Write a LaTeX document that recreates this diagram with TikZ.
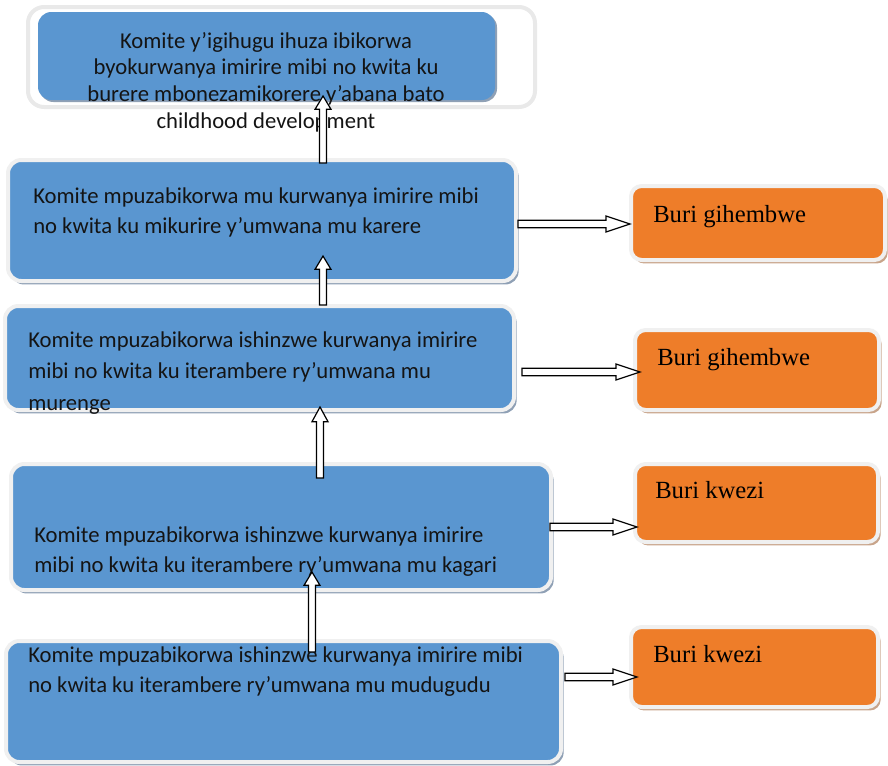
\documentclass[tikz,border=0pt]{standalone}
\usepackage{fontspec}
\setmainfont{Carlito}
\newfontfamily\orfont{Liberation Serif}
\usetikzlibrary{calc,shadows}
\definecolor{boxblue}{HTML}{5A96D0}
\definecolor{boxorange}{HTML}{EE7D29}
\definecolor{rimgray}{HTML}{F0F0F0}
\definecolor{framegray}{HTML}{E9E9E9}
\definecolor{blueshadow}{HTML}{8FA0B5}
\definecolor{orshadow}{HTML}{C8A48A}
% #1 from, #2 to, #3 shaft half width, #4 head half width, #5 head length
\newcommand\hollowarrow[5]{%
  \path let \p1=(#1), \p2=(#2), \n1={atan2(\y2-\y1,\x2-\x1)}, \n2={veclen(\x2-\x1,\y2-\y1)} in
    [shift={(\p1)}, rotate=\n1, draw=black, line width=0.9pt, fill=white, line join=miter]
    (0pt,-#3) -- ({\n2*1pt-#5},-#3) -- ({\n2*1pt-#5},-#4) -- ({\n2*1pt},0pt)
    -- ({\n2*1pt-#5},#4) -- ({\n2*1pt-#5},#3) -- (0pt,#3) -- cycle;}
\tikzset{
  bluebox/.style={rounded corners=10pt, fill=boxblue, draw=rimgray, line width=3pt,
    inner sep=0pt, outer sep=0pt,
    drop shadow={shadow xshift=2pt, shadow yshift=-2.6pt, fill=blueshadow, opacity=1}},
  orbox/.style={rounded corners=8pt, fill=boxorange, draw=rimgray, line width=3pt,
    inner sep=0pt, outer sep=0pt,
    drop shadow={shadow xshift=2pt, shadow yshift=-2.6pt, fill=orshadow, opacity=1}},
  bluetext/.style={anchor=base west, align=left, inner sep=0pt,
    font=\fontsize{17pt}{22.5pt}\selectfont, text=black!92},
  ortext/.style={anchor=base west, inner sep=0pt,
    font=\orfont\fontsize{18.5pt}{22pt}\selectfont, text=black}
}
\begin{document}
\begin{tikzpicture}[x=0.75pt,y=-0.75pt]
\useasboundingbox (0,0) rectangle (888,765);
% top box with frame
\node[rounded corners=12pt, draw=framegray, line width=3pt, fill=white, inner sep=0pt,
  minimum width=507*0.75pt, minimum height=100*0.75pt] (f1) at (281.5,57) {};
\node[rounded corners=10pt, fill=boxblue, inner sep=0pt, outer sep=0pt,
  drop shadow={shadow xshift=1.5pt, shadow yshift=-1.5pt, fill=blueshadow, opacity=1},
  minimum width=457*0.75pt, minimum height=88*0.75pt] (b1) at (266.5,56) {};
% blue boxes
\node[bluebox, minimum width=508*0.75pt, minimum height=121*0.75pt] (b2) at (262,220.5) {};
\node[bluebox, minimum width=509*0.75pt, minimum height=104*0.75pt] (b3) at (259.5,358) {};
\node[bluebox, minimum width=540*0.75pt, minimum height=126*0.75pt] (b4) at (281,527) {};
\node[bluebox, minimum width=555*0.75pt, minimum height=121*0.75pt] (b5) at (283.5,701.5) {};
% orange boxes
\node[orbox, minimum width=254*0.75pt, minimum height=74*0.75pt] (o1) at (758,223) {};
\node[orbox, minimum width=244*0.75pt, minimum height=80*0.75pt] (o2) at (757,370) {};
\node[orbox, minimum width=243*0.75pt, minimum height=78*0.75pt] (o3) at (756.5,503) {};
\node[orbox, minimum width=247*0.75pt, minimum height=80*0.75pt] (o4) at (754.5,667) {};
% texts (anchor base = baseline of the last line)
\node[anchor=base, align=center, inner sep=0pt, font=\fontsize{17pt}{20pt}\selectfont, text=black!92]
  (t1) at (266,128) {Komite y’igihugu ihuza ibikorwa\\byokurwanya imirire mibi no kwita ku\\burere mbonezamikorere y’abana bato\\childhood development};
\node[bluetext] (t2) at (33,233) {Komite mpuzabikorwa mu kurwanya imirire mibi\\no kwita ku mikurire y’umwana mu karere};
\node[bluetext, font=\fontsize{17pt}{23.5pt}\selectfont] (t3) at (28,410) {Komite mpuzabikorwa ishinzwe kurwanya imirire\\mibi no kwita ku iterambere ry’umwana mu\\murenge};
\node[bluetext] (t4) at (34,572) {Komite mpuzabikorwa ishinzwe kurwanya imirire\\mibi no kwita ku iterambere ry’umwana mu kagari};
\node[bluetext] (t5) at (28,692) {Komite mpuzabikorwa ishinzwe kurwanya imirire mibi\\no kwita ku iterambere ry’umwana mu mudugudu};
\node[ortext] (u1) at (653,222) {Buri gihembwe};
\node[ortext] (u2) at (657,365) {Buri gihembwe};
\node[ortext] (u3) at (655,498) {Buri kwezi};
\node[ortext] (u4) at (653,662) {Buri kwezi};
% vertical arrows
\hollowarrow{$(b2.north)+(61,3)$}{$(b1.south)+(56.5,-4)$}{2.6pt}{6pt}{10pt}
\hollowarrow{$(b3.north)+(63.5,-1)$}{$(b2.south)+(61,-25)$}{2.6pt}{6pt}{10pt}
\hollowarrow{$(b4.north)+(39,14)$}{$(b3.south)+(60.5,-3)$}{2.6pt}{6pt}{11pt}
\hollowarrow{$(b5.north)+(28.5,11)$}{$(b4.south)+(31,-18)$}{2.6pt}{6pt}{10pt}
% horizontal arrows
\hollowarrow{$(b2.east)+(2,3.5)$}{$(o1.west)+(-1,1)$}{2.8pt}{6pt}{18pt}
\hollowarrow{$(b3.east)+(8,14)$}{$(o2.west)+(5,2)$}{2.8pt}{6pt}{18pt}
\hollowarrow{$(b4.east)+(-1,0)$}{$(o3.west)+(2,24)$}{2.8pt}{6pt}{18pt}
\hollowarrow{$(b5.east)+(4,-24.5)$}{$(o4.west)+(6,10)$}{2.8pt}{6pt}{18pt}
\end{tikzpicture}
\end{document}
